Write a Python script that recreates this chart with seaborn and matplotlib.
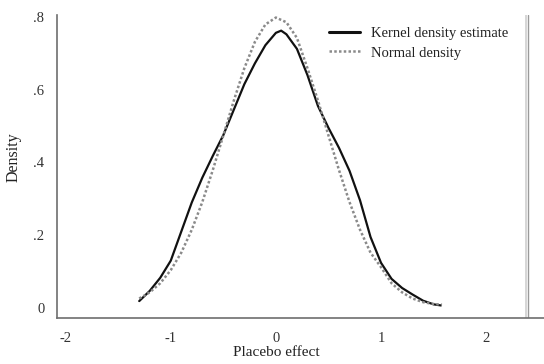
import matplotlib
matplotlib.use("Agg")
import matplotlib.pyplot as plt
import seaborn as sns
import pandas as pd

# ---- data ----
kde_x = [-1.30, -1.20, -1.10, -1.00, -0.90, -0.80, -0.70, -0.60, -0.50, -0.40,
         -0.30, -0.20, -0.10, 0.00, 0.05, 0.10, 0.20, 0.30, 0.40, 0.50,
         0.60, 0.70, 0.80, 0.90, 1.00, 1.10, 1.20, 1.30, 1.40, 1.50, 1.57]
kde_y = [0.019, 0.047, 0.083, 0.130, 0.210, 0.290, 0.358, 0.418, 0.475, 0.545,
         0.615, 0.672, 0.722, 0.756, 0.762, 0.752, 0.712, 0.640, 0.555, 0.495,
         0.440, 0.377, 0.296, 0.195, 0.124, 0.080, 0.055, 0.037, 0.020, 0.010, 0.007]

norm_x = [-1.30, -1.20, -1.10, -1.00, -0.90, -0.80, -0.70, -0.60, -0.50, -0.40,
          -0.30, -0.20, -0.10, 0.00, 0.10, 0.20, 0.30, 0.40, 0.50, 0.60,
          0.70, 0.80, 0.90, 1.00, 1.10, 1.20, 1.30, 1.40, 1.50, 1.58]
norm_y = [0.026, 0.043, 0.068, 0.104, 0.152, 0.215, 0.291, 0.379, 0.474, 0.570,
          0.659, 0.731, 0.779, 0.798, 0.785, 0.742, 0.659, 0.570, 0.474, 0.379,
          0.291, 0.215, 0.152, 0.112, 0.068, 0.043, 0.026, 0.016, 0.011, 0.009]

series_names = ["Kernel density estimate", "Normal density"]
x_ticks = [-2, -1, 0, 1, 2]
x_tick_labels = ["-2", "-1", "0", "1", "2"]
y_ticks = [0, 0.2, 0.4, 0.6, 0.8]
y_tick_labels = ["0", ".2", ".4", ".6", ".8"]
x_label = "Placebo effect"
y_label = "Density"
ref_line_x = [2.376, 2.395]

df = pd.concat([
    pd.DataFrame({"x": kde_x, "y": kde_y, "series": series_names[0]}),
    pd.DataFrame({"x": norm_x, "y": norm_y, "series": series_names[1]}),
], ignore_index=True)

sns.set_style("white")
plt.rcParams["font.family"] = ["Liberation Serif", "DejaVu Serif"]

W, H = 544, 364
fig = plt.figure(figsize=(W / 100, H / 100), dpi=100)
ax = fig.add_axes([57 / W, 1 - 318 / H, (W - 57) / W, (318 - 15) / H])

sns.lineplot(data=df[df.series == series_names[0]], x="x", y="y", ax=ax,
             color="#111111", lw=1.6, sort=False, label=series_names[0])
sns.lineplot(data=df[df.series == series_names[1]], x="x", y="y", ax=ax,
             color="#8a8a8a", lw=1.8, ls=(0, (1, 0.9)), sort=False,
             label=series_names[1])

ax.axvline(ref_line_x[0], ymin=0, ymax=1, color="#cfcfcf", lw=1.2)
ax.axvline(ref_line_x[1], ymin=0, ymax=1, color="#9a9a9a", lw=1.0)

ax.set_xlim(-2.082, 2.55)
ax.set_ylim(-0.0275, 0.805)
ax.set_xticks(x_ticks)
ax.set_xticklabels(x_tick_labels)
ax.set_yticks(y_ticks)
ax.set_yticklabels(y_tick_labels)
ax.tick_params(axis="both", length=0, labelsize=10.5, colors="#333333")
ax.tick_params(axis="x", pad=10)
ax.tick_params(axis="y", pad=9)

for s in ["top", "right"]:
    ax.spines[s].set_visible(False)
for s in ["left", "bottom"]:
    ax.spines[s].set_color("#6e6e6e")
    ax.spines[s].set_linewidth(1.2)

ax.set_xlabel(x_label, fontsize=11, color="#222222")
ax.set_ylabel(y_label, fontsize=11.5, color="#222222")
ax.xaxis.set_label_coords((276.5 - 57) / (W - 57), -0.092)
ax.yaxis.set_label_coords(-0.072, 0.53)

leg = ax.legend(loc="upper left", bbox_to_anchor=(329 / W, 1 - 27 / H),
                bbox_transform=fig.transFigure, frameon=False, fontsize=10.5,
                borderpad=0, borderaxespad=0, handlelength=2.15,
                handletextpad=0.7, labelspacing=0.42)
for t in leg.get_texts():
    t.set_color("#222222")
leg.get_lines()[0].set_linewidth(2.2)

fig.savefig("out.png", dpi=100)
